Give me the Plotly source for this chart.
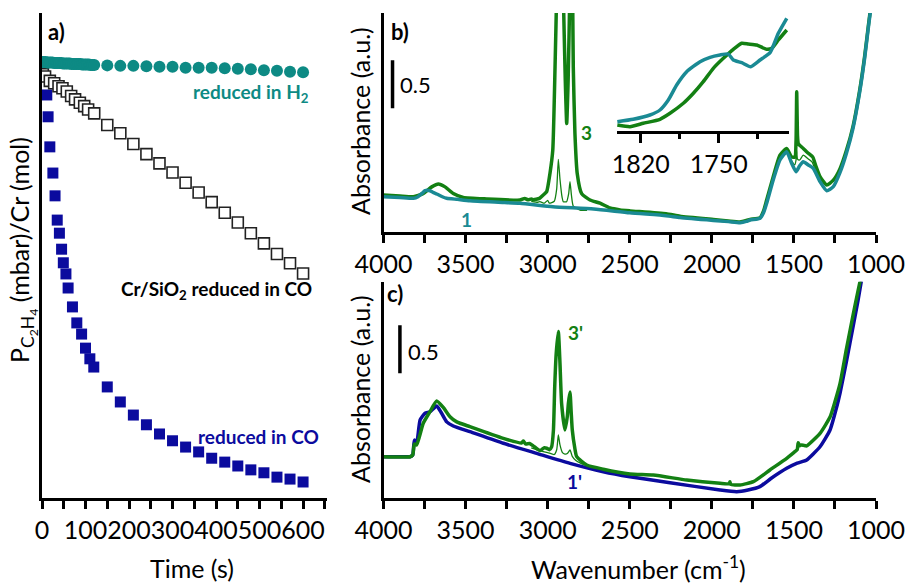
import plotly.graph_objects as go

W, H = 905, 584
FONT = "Lato, 'Open Sans', sans-serif"
TEAL_DOT = "#0d8a84"
TEAL = "#1a8a94"
GREEN = "#138013"
BLUE = "#0b0b9e"

# ---------------- panel a : ethylene consumption ----------------
t_h2 = [0, 4, 8, 12, 16, 20, 24, 28, 32, 36, 40, 44, 48, 52, 56, 60, 64, 68, 72, 76,
        80, 84, 88, 92, 96, 100, 104, 108, 112, 116, 120,
        150, 180, 210, 240, 270, 300, 330, 360, 390, 420, 450, 480, 510, 540, 570, 600]
p_h2 = [8.99, 8.99, 8.99, 8.98, 8.98, 8.98, 8.98, 8.97, 8.97, 8.97, 8.97, 8.97, 8.96,
        8.96, 8.96, 8.96, 8.96, 8.95, 8.95, 8.95, 8.95, 8.95, 8.95, 8.94, 8.94, 8.94,
        8.94, 8.94, 8.93, 8.93, 8.93,
        8.92, 8.91, 8.91, 8.90, 8.89, 8.89, 8.87, 8.87, 8.87, 8.86, 8.85, 8.84, 8.82,
        8.81, 8.79, 8.78]

t_sio2 = [2, 7, 18, 28, 38, 47, 57, 67, 76, 87, 97, 106, 120,
          150, 180, 210, 240, 270, 300, 330, 360, 390, 420, 450, 480, 510, 540, 570, 600]
p_sio2 = [8.74, 8.69, 8.60, 8.55, 8.49, 8.45, 8.38, 8.29, 8.22, 8.15, 8.08, 8.01, 7.93,
          7.69, 7.52, 7.30, 7.09, 6.90, 6.71, 6.50, 6.30, 6.10, 5.88, 5.68, 5.46, 5.25,
          5.03, 4.84, 4.63]

t_co = [3, 11, 14, 18, 25, 30, 35, 40, 45, 49, 55, 60, 70, 80, 91, 100, 110, 119,
        150, 180, 210, 240, 270, 300, 330, 360, 390, 420, 450, 480, 510, 540, 570, 600]
p_co = [8.78, 8.31, 7.86, 7.24, 6.70, 6.23, 5.73, 5.46, 5.13, 4.85, 4.62, 4.33, 3.94,
        3.61, 3.38, 3.09, 2.87, 2.70, 2.29, 1.98, 1.71, 1.51, 1.32, 1.18, 1.05, 0.95,
        0.82, 0.74, 0.66, 0.58, 0.52, 0.43, 0.39, 0.33]

time_ticks = [0, 100, 200, 300, 400, 500, 600]

# ---------------- panel b : spectra ----------------
wn_b1 = [4000, 3900, 3818, 3790, 3760, 3747, 3717, 3695, 3676, 3645, 3615, 3550, 3473,
         3300, 3169, 2968, 2720, 2500, 2279, 2194, 1991, 1900, 1828, 1790, 1767, 1706,
         1685, 1666, 1626, 1585, 1544, 1514, 1487, 1465, 1443, 1412, 1382, 1341, 1300,
         1260, 1219, 1180, 1140, 1100, 1070, 1045, 1030]
ab_b1 = [0.368, 0.36, 0.351, 0.368, 0.41, 0.43, 0.43, 0.41, 0.396, 0.37, 0.351, 0.34,
         0.326, 0.31, 0.299, 0.264, 0.24, 0.20, 0.17, 0.15, 0.12, 0.108, 0.097, 0.11,
         0.125, 0.143, 0.2, 0.299, 0.542, 0.75, 0.836, 0.716, 0.628, 0.69, 0.732, 0.698,
         0.663, 0.524, 0.43, 0.472, 0.62, 0.82, 1.08, 1.45, 1.8, 2.15, 2.35]

wn_b3 = [4000, 3900, 3818, 3759, 3706, 3666, 3625, 3575, 3514, 3371, 3169, 3140, 3120,
         3100, 3088, 3050, 3027, 3006, 2986, 2969, 2955, 2945, 2925, 2905, 2893, 2884,
         2875, 2865, 2855, 2848, 2844, 2834, 2820, 2793, 2742, 2681, 2620, 2559, 2498,
         2279, 2194, 1991, 1900, 1828, 1767, 1706, 1685, 1666, 1626, 1585, 1544, 1514,
         1494, 1487, 1483, 1478, 1473, 1443, 1412, 1385, 1365, 1341, 1300, 1260, 1219,
         1180, 1140, 1100, 1070, 1045, 1030]
ab_b3 = [0.385, 0.375, 0.368, 0.40, 0.47, 0.50, 0.47, 0.40, 0.36, 0.344, 0.333, 0.35,
         0.335, 0.345, 0.335, 0.35, 0.385, 0.42, 0.61, 0.85, 1.72, 2.5, 4.0, 2.5, 1.6,
         1.13, 1.6, 2.5, 3.5, 2.5, 1.72, 1.03, 0.61, 0.40, 0.333, 0.30, 0.25, 0.23, 0.22,
         0.19, 0.165, 0.13, 0.115, 0.105, 0.13, 0.15, 0.22, 0.333, 0.576, 0.80, 0.87,
         0.78, 0.78, 0.95, 1.46, 1.0, 0.92, 0.87, 0.82, 0.78, 0.68, 0.576, 0.49, 0.54,
         0.66, 0.85, 1.1, 1.47, 1.82, 2.17, 2.37]

wn_b2 = [3100, 3060, 3047, 3020, 3000, 2990, 2960, 2945, 2935, 2925, 2912, 2905, 2885,
         2872, 2864, 2855, 2844, 2803, 2760, None,
         1560, 1544, 1514, 1495, 1487, 1483, 1478, 1465, 1443, 1412, 1390, 1370, 1341]
ab_b2 = [0.32, 0.31, 0.316, 0.30, 0.33, 0.30, 0.32, 0.45, 0.757, 0.55, 0.36, 0.316,
         0.315, 0.40, 0.524, 0.38, 0.27, 0.229, 0.225, None,
         0.80, 0.85, 0.74, 0.70, 0.75, 0.85, 0.76, 0.75, 0.80, 0.76, 0.73, 0.65, 0.55]

# inset of panel b
wn_in = [1841, 1826.7, 1811.7, 1802.7, 1795.2, 1787.7, 1778.7, 1766.7, 1757.7, 1748.8,
         1741.3, 1736.8, 1729.3, 1721.2, 1712.8, 1703.8, 1696.4, 1688.8]
ab_in1 = [0.093, 0.117, 0.16, 0.21, 0.31, 0.46, 0.593, 0.693, 0.737, 0.76, 0.77, 0.71,
          0.683, 0.643, 0.71, 0.783, 0.977, 1.127]
wn_in3 = [1841, 1829.6, 1817.7, 1802.7, 1793.7, 1781.7, 1772.7, 1763.8, 1754.8, 1745.8,
          1736.8, 1729.3, 1723.3, 1715.8, 1706.8, 1702.3, 1696.4, 1688.8]
ab_in3 = [0.06, 0.043, 0.077, 0.117, 0.177, 0.277, 0.377, 0.493, 0.627, 0.727, 0.817,
          0.877, 0.87, 0.86, 0.817, 0.827, 0.91, 1.01]

# ---------------- panel c : spectra ----------------
wn_c1 = [4000, 3900, 3838, 3822, 3812, 3798, 3777, 3747, 3717, 3676, 3646, 3615, 3575,
         3474, 3270, 3067, 2864, 2661, 2499, 2255, 1950, 1849, 1780, 1707, 1640, 1544,
         1480, 1422, 1341, 1280, 1239, 1219, 1180, 1140, 1110, 1080]
ab_c1 = [0.427, 0.427, 0.427, 0.445, 0.60, 0.567, 0.81, 0.88, 0.896, 0.955, 0.88, 0.79,
         0.747, 0.688, 0.567, 0.462, 0.358, 0.271, 0.219, 0.156, 0.08, 0.0625, 0.08,
         0.115, 0.2, 0.306, 0.36, 0.393, 0.531, 0.705, 0.948, 1.09, 1.42, 1.78, 2.05, 2.35]

wn_c3 = [4000, 3838, 3822, 3812, 3798, 3758, 3717, 3676, 3636, 3595, 3554, 3474, 3270,
         3160, 3148, 3135, 3110, 3088, 3047, 3020, 3006, 2990, 2976, 2965, 2957, 2948,
         2935, 2925, 2915, 2895, 2880, 2874, 2864, 2857, 2850, 2835, 2823, 2762, 2661,
         2499, 2357, 2153, 1950, 1895, 1890, 1885, 1828, 1747, 1646, 1544, 1494, 1480,
         1474, 1465, 1453, 1440, 1422, 1341, 1280, 1250, 1219, 1180, 1140, 1110, 1085]
ab_c3 = [0.427, 0.427, 0.445, 0.56, 0.55, 0.775, 0.896, 1.007, 0.94, 0.844, 0.79, 0.74,
         0.618, 0.57, 0.59, 0.56, 0.565, 0.54, 0.49, 0.52, 0.515, 0.50, 0.53, 0.70, 1.16,
         1.5, 1.73, 1.4, 0.98, 0.705, 0.85, 0.98, 1.10, 0.9, 0.705, 0.52, 0.427, 0.34,
         0.296, 0.247, 0.236, 0.184, 0.15, 0.145, 0.165, 0.14, 0.132, 0.167, 0.289, 0.41,
         0.48, 0.50, 0.573, 0.54, 0.55, 0.545, 0.54, 0.67, 0.84, 1.0, 1.19, 1.55, 1.9,
         2.15, 2.35]

wn_c2 = [3100, 3050, 3000, 2960, 2945, 2935, 2925, 2910, 2895, 2880, 2864, 2850, 2830,
         2800, 2760]
ab_c2 = [0.52, 0.49, 0.47, 0.45, 0.5, 0.653, 0.55, 0.47, 0.455, 0.46, 0.497, 0.43, 0.39,
         0.36, 0.33]

wn_ticks = [4000, 3500, 3000, 2500, 2000, 1500, 1000]
inset_ticks = [1820, 1750]
SCALE = 0.5

# ---------------- figure ----------------
fig = go.Figure()

sq = dict(symbol="square", size=11)
fig.add_trace(go.Scatter(x=t_co, y=p_co, mode="markers", xaxis="x", yaxis="y",
                         marker=dict(**sq, color=BLUE, line=dict(width=0))))
fig.add_trace(go.Scatter(x=t_sio2, y=p_sio2, mode="markers", xaxis="x", yaxis="y",
                         marker=dict(**sq, color="white", line=dict(width=1.6, color="#222222"))))
fig.add_trace(go.Scatter(x=t_h2, y=p_h2, mode="markers", xaxis="x", yaxis="y",
                         marker=dict(symbol="circle", size=12, color=TEAL_DOT, line=dict(width=0))))

ln = dict(shape="spline", smoothing=0.5)
fig.add_trace(go.Scatter(x=wn_b2, y=ab_b2, mode="lines", xaxis="x2", yaxis="y2",
                         line=dict(color=GREEN, width=1.3, **ln), connectgaps=False))
fig.add_trace(go.Scatter(x=wn_b3, y=ab_b3, mode="lines", xaxis="x2", yaxis="y2",
                         line=dict(color=GREEN, width=3.5, **ln)))
fig.add_trace(go.Scatter(x=wn_b1, y=ab_b1, mode="lines", xaxis="x2", yaxis="y2",
                         line=dict(color=TEAL, width=3.5, **ln)))

fig.add_trace(go.Scatter(x=wn_in3, y=ab_in3, mode="lines", xaxis="x4", yaxis="y4",
                         line=dict(color=GREEN, width=3.5, **ln)))
fig.add_trace(go.Scatter(x=wn_in, y=ab_in1, mode="lines", xaxis="x4", yaxis="y4",
                         line=dict(color=TEAL, width=3.5, **ln)))

fig.add_trace(go.Scatter(x=wn_c1, y=ab_c1, mode="lines", xaxis="x3", yaxis="y3",
                         line=dict(color=BLUE, width=3.5, **ln)))
fig.add_trace(go.Scatter(x=wn_c2, y=ab_c2, mode="lines", xaxis="x3", yaxis="y3",
                         line=dict(color=GREEN, width=1.3, **ln)))
fig.add_trace(go.Scatter(x=wn_c3, y=ab_c3, mode="lines", xaxis="x3", yaxis="y3",
                         line=dict(color=GREEN, width=3.5, **ln)))


def px_x(p):
    return p / W


def px_y(p):
    return 1 - p / H


tickfont = dict(family=FONT, size=25, color="black")
axis_common = dict(showline=True, linecolor="black", linewidth=3, showgrid=False,
                   zeroline=False, mirror=False, fixedrange=True, automargin=False)
xa_spec = dict(axis_common, range=[4000, 1000], tickmode="array", tickvals=wn_ticks,
               ticks="outside", ticklen=8, tickwidth=2.5, tickcolor="black",
               tickfont=tickfont, tickangle=0, ticklabeloverflow="allow",
               minor=dict(dtick=250, tick0=1000, ticks="outside", ticklen=8,
                          tickwidth=2.5, tickcolor="black"))

fig.update_layout(
    template="none",
    width=W, height=H, margin=dict(l=0, r=0, t=0, b=0, pad=0, autoexpand=False),
    paper_bgcolor="white", plot_bgcolor="white", showlegend=False,
    font=dict(family=FONT, color="black"),
    xaxis=dict(axis_common, domain=[px_x(42), px_x(327)], range=[0, 655], anchor="y",
               tickmode="array", tickvals=time_ticks, ticks="outside", ticklen=8,
               tickwidth=2.5, tickcolor="black", tickfont=tickfont, tickangle=0,
               ticklabeloverflow="allow",
               minor=dict(dtick=50, tick0=0, ticks="outside", ticklen=8, tickwidth=2.5,
                          tickcolor="black")),
    yaxis=dict(axis_common, domain=[px_y(498), px_y(13)], range=[0, 10], anchor="x",
               showticklabels=False, ticks=""),
    xaxis2=dict(xa_spec, domain=[px_x(383.5), px_x(876)], anchor="y2"),
    yaxis2=dict(axis_common, domain=[px_y(232), px_y(13)], range=[0, 2.281], anchor="x2",
                showticklabels=False, ticks=""),
    xaxis3=dict(xa_spec, domain=[px_x(383.5), px_x(876)], anchor="y3"),
    yaxis3=dict(axis_common, domain=[px_y(497.7), px_y(281.7)], range=[0, 2.25],
                anchor="x3", showticklabels=False, ticks=""),
    xaxis4=dict(axis_common, domain=[px_x(617), px_x(789)], range=[1841.3, 1686.8],
                anchor="y4", tickmode="array", tickvals=inset_ticks, ticks="outside",
                ticklen=9, tickwidth=2.5, tickcolor="black", tickfont=tickfont,
                tickangle=0, ticklabeloverflow="allow",
                minor=dict(dtick=35, tick0=1820, ticks="outside", ticklen=5,
                           tickwidth=2.5, tickcolor="black")),
    yaxis4=dict(domain=[px_y(131), px_y(13)], range=[0, 1.18], anchor="x4",
                visible=False, fixedrange=True, automargin=False),
)

# scale bars (0.5 absorbance units)
fig.add_shape(type="line", xref="x2", yref="y2", x0=3945, x1=3945, y0=1.29,
              y1=1.29 + SCALE, line=dict(color="black", width=3.5))
fig.add_shape(type="line", xref="x3", yref="y3", x0=3900, x1=3900, y0=1.296,
              y1=1.296 + SCALE, line=dict(color="black", width=3.5))


def note(text, x, y, size=25, color="black", angle=0, xanchor="center", bold=False):
    if bold:
        text = "<b>" + text + "</b>"
    fig.add_annotation(text=text, x=px_x(x), y=px_y(y), xref="paper", yref="paper",
                       showarrow=False, textangle=angle, xanchor=xanchor,
                       yanchor="middle", font=dict(family=FONT, size=size, color=color))


note("a)", 56, 31, size=22, bold=True)
note("b)", 400, 31, size=22, bold=True)
note("c)", 395, 293, size=22, bold=True)
note(str(SCALE), 398, 85, size=22, xanchor="left")
note(str(SCALE), 406, 351, size=22, xanchor="left")

note("reduced in H<sub>2</sub>", 311, 93, size=19, color=TEAL_DOT, xanchor="right", bold=True)
note("Cr/SiO<sub>2</sub> reduced in CO", 314, 290, size=19, xanchor="right", bold=True)
note("reduced in CO", 321, 436, size=19, color=BLUE, xanchor="right", bold=True)

note("3", 586, 133, size=19, color=GREEN, bold=True)
note("1", 467, 219, size=19, color=TEAL, bold=True)
note("3'", 575, 332, size=19, color=GREEN, bold=True)
note("1'", 574, 481, size=19, color=BLUE, bold=True)

note("Time (s)", 192, 568)
note("Wavenumber (cm<sup>-1</sup>)", 638, 567)
note("Absorbance (a.u.)", 360, 121, angle=-90)
note("Absorbance (a.u.)", 360, 389, angle=-90)
note("P<sub>C<sub>2</sub>H<sub>4</sub></sub> (mbar)/Cr (mol)", 22, 250, angle=-90)

fig.write_html("out.html", config={"displayModeBar": False},
               post_script="document.body.style.margin='0';document.body.style.padding='0';")
